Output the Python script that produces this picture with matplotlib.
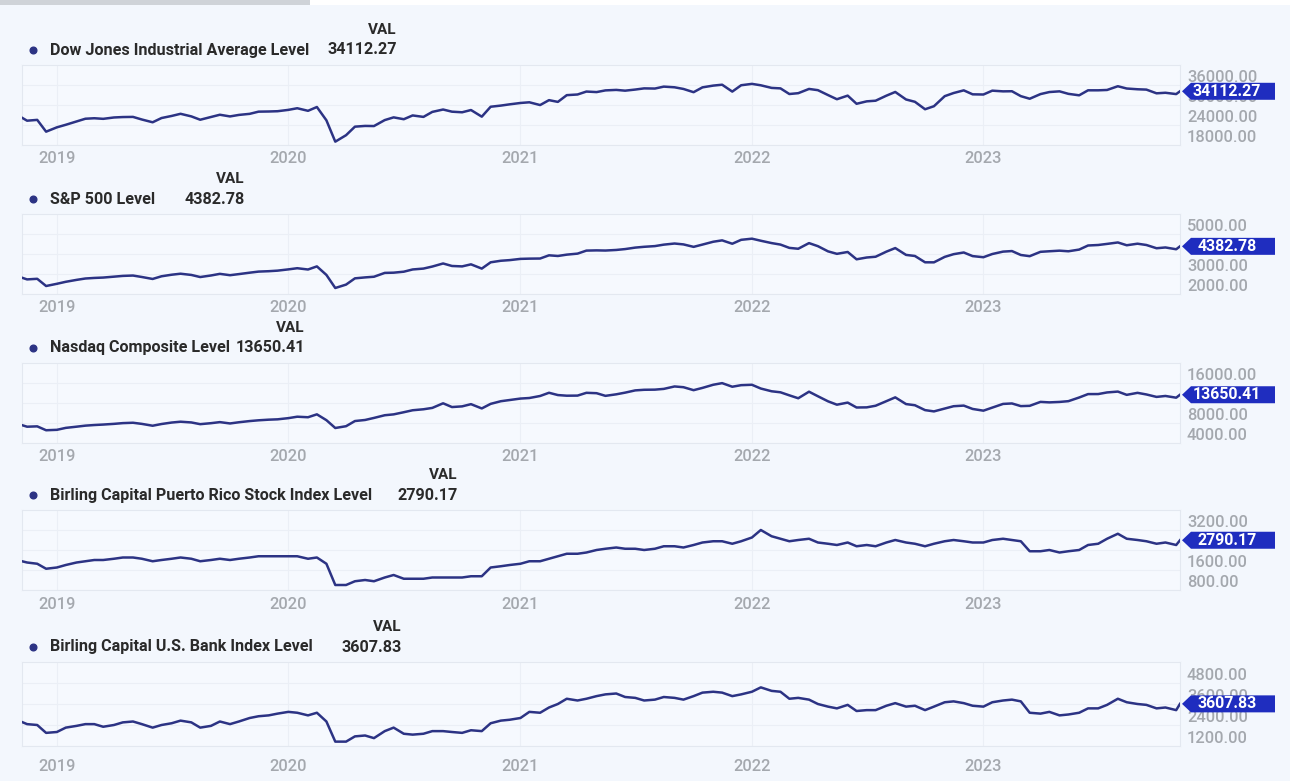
import matplotlib
matplotlib.use('Agg')
import matplotlib.pyplot as plt
import numpy as np
import pandas as pd
from matplotlib.lines import Line2D
from matplotlib.patches import Polygon, Rectangle

plt.rcParams['font.family'] = ['Roboto', 'DejaVu Sans']

# ---------------- data ----------------
dates = (pd.to_datetime(['2018-11-07'])
         .append(pd.date_range('2018-11-15', '2023-11-01', freq='SMS'))
         .append(pd.to_datetime(['2023-11-07'])))

dow = [26180, 25289, 25538, 22000,
       23300, 24065, 25063, 25883, 26026, 25849, 26258, 26384, 26430, 25648, 24815, 26090,
       26717, 27360, 26583, 25579, 26403, 27076, 26573, 27024, 27347, 28004, 28051, 28135,
       28538, 29030, 28256, 29398, 25409, 19000, 20943, 23504, 23723, 23685, 25475, 26290,
       25734, 26870, 26428, 27931, 28645, 27995, 27816, 28494, 26501, 29479, 29823, 30199,
       30606, 30814, 29982, 31458, 30932, 32953, 33153, 34035, 33874, 34382, 34529, 34299,
       34633, 34987, 34935, 35515, 35312, 34814, 33843, 35294, 35820, 36087, 34022, 35927,
       36338, 35911, 35131, 34988, 33294, 33544, 34818, 34451, 32977, 31730, 32813, 30364,
       31097, 31288, 32798, 33912, 31656, 30961, 28725, 29634, 32653, 33592, 34395, 33202,
       33147, 34302, 34092, 34128, 32656, 31875, 33274, 33886, 34098, 33348, 32908, 34408,
       34407, 34509, 35630, 34946, 34721, 34618, 33507, 33670, 33274, 34112.27]

sp500 = [2814, 2730, 2760, 2400,
         2510, 2610, 2706, 2775, 2803, 2822, 2867, 2905, 2923, 2850, 2752, 2886,
         2964, 3014, 2953, 2848, 2926, 3007, 2940, 2995, 3066, 3120, 3140, 3168,
         3231, 3289, 3225, 3380, 2954, 2300, 2470, 2783, 2830, 2863, 3055, 3066,
         3115, 3227, 3271, 3373, 3526, 3401, 3380, 3483, 3270, 3585, 3662, 3694,
         3756, 3768, 3774, 3934, 3901, 3968, 4019, 4170, 4181, 4173, 4202, 4246,
         4320, 4360, 4395, 4468, 4524, 4480, 4357, 4471, 4613, 4682, 4513, 4709,
         4766, 4663, 4546, 4471, 4306, 4262, 4545, 4392, 4132, 4008, 4101, 3735,
         3825, 3863, 4118, 4297, 3955, 3901, 3585, 3583, 3856, 3991, 4076, 3895,
         3839, 3999, 4119, 4147, 3951, 3891, 4109, 4137, 4167, 4136, 4221, 4425,
         4450, 4505, 4577, 4437, 4515, 4450, 4288, 4327, 4237, 4382.78]

nasdaq = [7570, 7259, 7330, 6550,
          6635, 7024, 7263, 7472, 7595, 7688, 7828, 7976, 8050, 7822, 7453, 7797,
          8091, 8258, 8111, 7767, 7963, 8176, 7909, 8148, 8386, 8540, 8665, 8735,
          8972, 9258, 9151, 9731, 8567, 7000, 7360, 8393, 8605, 9014, 9552, 9726,
          10154, 10550, 10745, 11019, 11940, 11190, 11326, 11768, 10911, 11829, 12355, 12595,
          12888, 12998, 13403, 14047, 13588, 13460, 13480, 14038, 13962, 13430, 13736, 14072,
          14522, 14644, 14672, 14822, 15309, 15161, 14566, 15021, 15650, 15973, 15254, 15566,
          15645, 14893, 14346, 14139, 13532, 12949, 14261, 13351, 12335, 11662, 12081, 11100,
          11128, 11452, 12368, 13128, 11785, 11552, 10576, 10321, 10890, 11358, 11482, 10811,
          10466, 11079, 11816, 11910, 11379, 11434, 12222, 12124, 12213, 12366, 13100, 13782,
          13788, 14113, 14283, 13631, 14031, 13708, 13219, 13407, 13061, 13650.41]

pr_index = [1950, 1900, 1850, 1650,
            1700, 1800, 1900, 1950, 2000, 2000, 2050, 2100, 2100, 2050, 1950, 2000,
            2050, 2100, 2050, 1950, 2000, 2050, 2000, 2050, 2100, 2150, 2150, 2150,
            2150, 2150, 2050, 2100, 1850, 1000, 1000, 1150, 1200, 1150, 1300, 1400,
            1250, 1250, 1250, 1300, 1300, 1300, 1300, 1350, 1350, 1700, 1750, 1800,
            1850, 1950, 1950, 2050, 2150, 2250, 2250, 2300, 2400, 2450, 2500, 2450,
            2450, 2400, 2450, 2550, 2550, 2500, 2600, 2700, 2750, 2750, 2650, 2750,
            2900, 3200, 2950, 2850, 2750, 2800, 2850, 2700, 2650, 2600, 2700, 2550,
            2600, 2550, 2700, 2800, 2700, 2650, 2550, 2650, 2750, 2800, 2750, 2700,
            2700, 2800, 2850, 2800, 2750, 2350, 2350, 2400, 2300, 2350, 2400, 2600,
            2650, 2850, 3050, 2850, 2800, 2750, 2650, 2700, 2600, 2790.17]

bank_index = [2570, 2450, 2400, 1950,
              2000, 2250, 2350, 2450, 2450, 2300, 2400, 2550, 2600, 2450, 2250, 2400,
              2500, 2650, 2550, 2250, 2350, 2600, 2450, 2600, 2800, 2900, 2950, 3050,
              3150, 3100, 2950, 3100, 2600, 1450, 1450, 1750, 1800, 1650, 2050, 2250,
              1900, 1850, 1900, 2050, 2050, 2000, 1950, 2100, 2050, 2500, 2650, 2700,
              2800, 3150, 3100, 3400, 3600, 3900, 3800, 3900, 4050, 4150, 4200, 4000,
              3950, 3800, 3850, 4000, 3950, 3850, 4050, 4250, 4300, 4250, 4050, 4150,
              4300, 4550, 4350, 4300, 3900, 3950, 3850, 3600, 3450, 3350, 3550, 3200,
              3250, 3250, 3500, 3650, 3450, 3500, 3250, 3450, 3700, 3750, 3650, 3500,
              3450, 3700, 3800, 3850, 3750, 3100, 3050, 3150, 2950, 3000, 3100, 3350,
              3350, 3550, 3900, 3700, 3600, 3550, 3350, 3400, 3250, 3607.83]

series_names = ["Dow Jones Industrial Average Level", "S&P 500 Level",
                "Nasdaq Composite Level", "Birling Capital Puerto Rico Stock Index Level",
                "Birling Capital U.S. Bank Index Level"]
series_values = [dow, sp500, nasdaq, pr_index, bank_index]
y_ticks = [[18000, 24000, 30000, 36000], [2000, 3000, 4000, 5000],
           [4000, 8000, 12000, 16000], [800, 1600, 2400, 3200],
           [1200, 2400, 3600, 4800]]
y_limits = [(18000, 42000), (2000, 6000), (4000, 20000), (800, 4000), (1200, 6000)]
year_ticks = ['2019-01-01', '2020-01-01', '2021-01-01', '2022-01-01', '2023-01-01']
year_labels = ['2019', '2020', '2021', '2022', '2023']

# ---------------- layout (pixels) ----------------
W, H = 1290, 781
BG = '#f3f7fd'
LINE = '#2c3384'
TAG = '#1f2dbf'
GRAY = '#a4a8ae'
DARK = '#2a2a2a'

boxes = [(65, 145), (214, 294), (363, 443), (510, 590), (662, 746)]
xlab_pad = [4.0, 4.0, 4.0, 5.0, 9.5]
header_right = [397, 245, 305, 458, 402]
X0, X1 = 22, 1180
FS_HEAD = 11.6
FS_TICK = 11.8

fig = plt.figure(figsize=(W / 100, H / 100), dpi=100)
fig.patch.set_facecolor(BG)

# top strip (cut-off header of the screenshot)
fig.add_artist(Rectangle((0, 1 - 5 / H), 310 / W, 5 / H, transform=fig.transFigure,
                         facecolor='#cfd3d8', edgecolor='none'))
fig.add_artist(Rectangle((310 / W, 1 - 5 / H), 1 - 310 / W, 5 / H, transform=fig.transFigure,
                         facecolor='white', edgecolor='none'))


def fx(x):
    return x / W


def fy(y):
    return 1 - y / H


for i in range(5):
    top, bot = boxes[i]
    ax = fig.add_axes([fx(X0), fy(bot), (X1 - X0) / W, (bot - top) / H])
    ax.set_facecolor('#f6f9fe')
    vals = series_values[i]
    ax.plot(dates, vals, color=LINE, lw=1.8, solid_joinstyle='round', zorder=3)
    ax.set_xlim(dates[0], dates[-1])
    ax.set_ylim(*y_limits[i])
    ax.yaxis.tick_right()
    ax.set_yticks(y_ticks[i])
    ax.set_yticklabels([f'{t:.2f}' for t in y_ticks[i]])
    for lab in ax.get_yticklabels():
        lab.set_verticalalignment('bottom')
    ax.set_xticks(pd.to_datetime(year_ticks))
    ax.set_xticklabels(year_labels)
    ax.tick_params(axis='y', length=0, pad=5, labelsize=FS_TICK, labelcolor=GRAY)
    ax.tick_params(axis='x', length=0, pad=xlab_pad[i], labelsize=FS_TICK, labelcolor=GRAY)
    for lab in ax.get_xticklabels() + ax.get_yticklabels():
        lab.set_fontweight('medium')
    ax.grid(True, color='#ebeff6', lw=0.8, zorder=0)
    for s in ax.spines.values():
        s.set_color('#e3e8f0')
        s.set_linewidth(0.8)

    # header
    hr = header_right[i]
    fig.text(fx(hr), fy(top - 35), 'VAL', ha='right', va='center', fontsize=FS_HEAD - 0.6,
             fontweight='bold', color=DARK)
    leg_y = top - 15
    fig.add_artist(Line2D([fx(33)], [fy(leg_y)], marker='o', ms=4.8, color=LINE,
                          transform=fig.transFigure))
    fig.text(fx(50), fy(leg_y), series_names[i], ha='left', va='center', fontsize=FS_HEAD,
             fontweight='bold', color=DARK)
    fig.text(fx(hr), fy(leg_y), f'{vals[-1]:.2f}', ha='right', va='center', fontsize=FS_HEAD,
             fontweight='bold', color=DARK)

    # last value tag
    fig.canvas.draw()
    _, yd = ax.transData.transform((matplotlib.dates.date2num(dates[-1]), vals[-1]))
    yc = H - yd
    hh = 8.5
    poly = [(1182, yc), (1191, yc - hh), (1275, yc - hh), (1275, yc + hh), (1191, yc + hh)]
    fig.add_artist(Polygon([(fx(px), fy(py)) for px, py in poly], closed=True,
                           transform=fig.transFigure, facecolor=TAG, edgecolor='none',
                           zorder=5))
    fig.text(fx(1227), fy(yc), f'{vals[-1]:.2f}', ha='center', va='center',
             fontsize=11.4, fontweight='bold', color='white', zorder=6)

fig.savefig('out.png', dpi=100, facecolor=BG)
